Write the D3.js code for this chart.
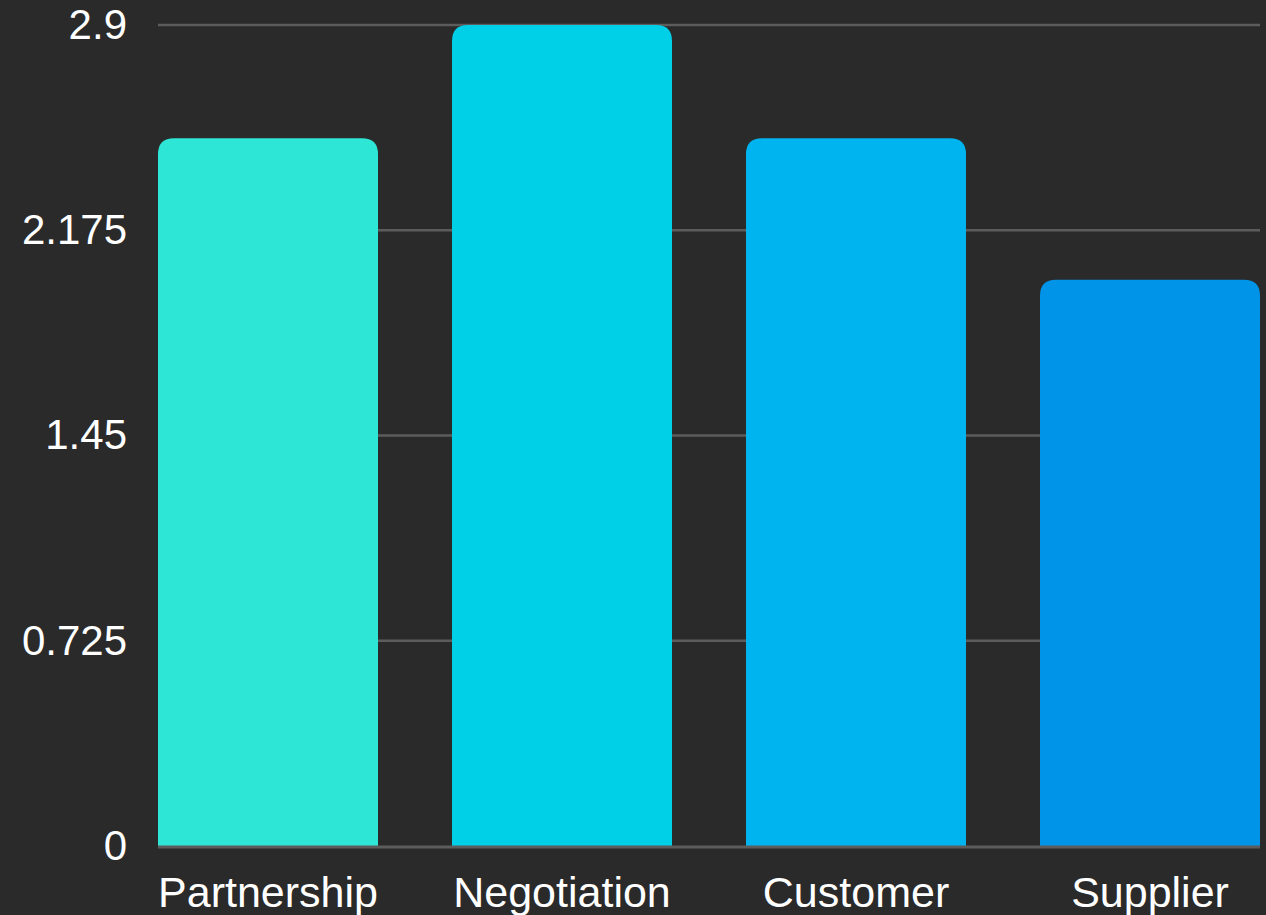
<!DOCTYPE html>
<html><head><meta charset="utf-8">
<script src="https://cdn.jsdelivr.net/npm/d3@7"></script>
<style>html,body{margin:0;padding:0;background:#2a2a2a;}svg{display:block;}</style>
</head><body>
<svg id="c" width="1266" height="915"></svg>
<script>
const categories = ["Partnership", "Negotiation", "Customer", "Supplier"];
const values = [2.5, 2.9, 2.5, 2.0];
const colors = ["#2ee6d6", "#00cfe8", "#00b4f0", "#0094e8"];
const yTicks = [0, 0.725, 1.45, 2.175, 2.9];

(function(){
const svg = d3.select("#c");
svg.append("rect").attr("width",1266).attr("height",915).attr("fill","#2a2a2a");
const mLeft = 158, mRight = 1260, mTop = 25, mBottom = 846;
const x = d3.scaleBand().domain(categories).range([mLeft, mRight]).paddingInner(74/294).paddingOuter(0);
const y = d3.scaleLinear().domain([0, 2.9]).range([mBottom, mTop]);
const font = "'Liberation Sans', Arial, sans-serif";

// gridlines
svg.append("g").selectAll("line").data(yTicks.filter(d=>d>0)).join("line")
  .attr("x1", mLeft).attr("x2", mRight)
  .attr("y1", d=>y(d)).attr("y2", d=>y(d))
  .attr("stroke", "#5c5c5c").attr("stroke-width", 2.5);

// y axis labels
const yAxis = d3.axisLeft(y).tickValues(yTicks).tickSize(0).tickPadding(31).tickFormat(d=>String(d));
const ya = svg.append("g").attr("transform", `translate(${mLeft},0)`).call(yAxis);
ya.select(".domain").remove();
ya.selectAll("text").attr("fill","#ffffff").attr("font-size", 42).attr("font-family", font);

// bars with rounded top corners
const r = 16;
svg.append("g").selectAll("path").data(categories).join("path")
  .attr("fill", (d,i)=>colors[i])
  .attr("d", (d,i)=>{
    const x0 = x(d), w = x.bandwidth(), y0 = y(values[i]), yb = y(0);
    return `M${x0},${yb}V${y0+r}Q${x0},${y0} ${x0+r},${y0}H${x0+w-r}Q${x0+w},${y0} ${x0+w},${y0+r}V${yb}Z`;
  });

// baseline
svg.append("line").attr("x1", mLeft).attr("x2", mRight).attr("y1", mBottom+1).attr("y2", mBottom+1)
  .attr("stroke", "#5c5c5c").attr("stroke-width", 3);

// x axis labels
const xAxis = d3.axisBottom(x).tickSize(0).tickPadding(30);
const xa = svg.append("g").attr("transform", `translate(0,${mBottom})`).call(xAxis);
xa.select(".domain").remove();
xa.selectAll("text").attr("fill","#ffffff").attr("font-size", 43).attr("font-family", font);
})();
</script>
</body></html>
